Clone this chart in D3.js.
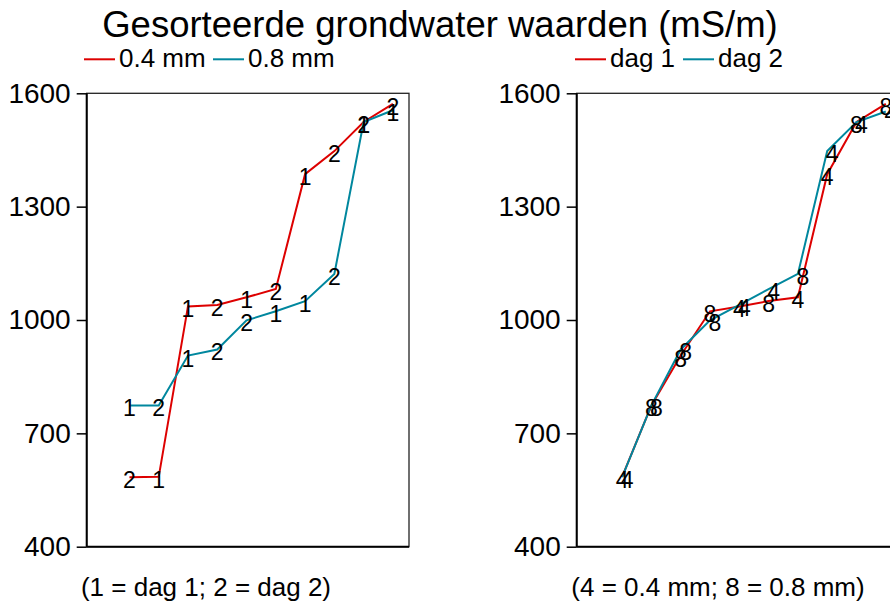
<!DOCTYPE html>
<html>
  <head>
    <meta charset="utf-8">
    <script src="https://cdn.jsdelivr.net/npm/d3@7"></script>
    <style>
      body { margin: 0; background: #fff; }
      text { font-family: "Liberation Sans", Arial, sans-serif; fill: #000; }
    </style>
  </head>
  <body>
    <div id="chart"></div>
    <script type="text/javascript">
      // left panel: sorted per sieve size, label = day
      var leftRedVals = [584, 585, 1036, 1040, 1060, 1082, 1386, 1447, 1524, 1572],
          leftRedLabels = ["2", "1", "1", "2", "1", "2", "1", "2", "1", "2"],
          leftTealVals = [774, 774, 906, 922, 999, 1023, 1050, 1122, 1524, 1555],
          leftTealLabels = ["1", "2", "1", "2", "2", "1", "1", "2", "2", "1"];

      // right panel: sorted per day, label = sieve size
      var rightRedVals = [585, 774, 906, 1023, 1036, 1050, 1060, 1386, 1524, 1572],
          rightRedLabels = ["4", "8", "8", "8", "4", "8", "4", "4", "8", "8"],
          rightTealVals = [584, 774, 922, 999, 1040, 1082, 1122, 1447, 1524, 1552],
          rightTealLabels = ["4", "8", "8", "8", "4", "4", "8", "4", "4", "4"];

      var yTicks = [400, 700, 1000, 1300, 1600];
      var leftLegend = ["0.4 mm", "0.8 mm"],
          rightLegend = ["dag 1", "dag 2"];

      var red = "#dd0000",
          teal = "#00879e";

      var svg = d3.select("#chart").append("svg")
          .attr("width", 890)
          .attr("height", 605);

      svg.append("text")
          .attr("x", 440)
          .attr("y", 37)
          .style("font-size", "36.5px")
          .style("text-anchor", "middle")
          .text("Gesorteerde grondwater waarden (mS/m)");

      var y = d3.scaleLinear().domain([400, 1600]).range([546.7, 93.3]);

      function legend(x0, names, offsets) {
        var g = svg.append("g");
        names.forEach(function(n, i) {
          g.append("line")
              .attr("x1", x0 + offsets[i]).attr("x2", x0 + offsets[i] + 31)
              .attr("y1", 59.3).attr("y2", 59.3)
              .attr("stroke", i == 0 ? red : teal)
              .attr("stroke-width", 2);
          g.append("text")
              .attr("x", x0 + offsets[i] + 35)
              .attr("y", 67)
              .style("font-size", "26px")
              .text(n);
        });
      }
      legend(84, leftLegend, [0, 129]);
      legend(575, rightLegend, [0, 108]);

      function panel(left, domain, series, caption, capX) {
        var x = d3.scaleLinear().domain(domain).range([left, left + 322.3]);
        var g = svg.append("g");

        // box
        g.append("rect")
            .attr("x", left).attr("y", y(1600))
            .attr("width", 322.3).attr("height", y(400) - y(1600))
            .attr("fill", "none")
            .attr("stroke", "#222")
            .attr("stroke-width", 1.3);

        var axis = d3.axisLeft(y).tickValues(yTicks).tickFormat(d3.format("d"))
            .tickSize(10).tickPadding(6);
        var ax = g.append("g")
            .attr("transform", "translate(" + left + ",0)")
            .call(axis);
        ax.select(".domain").attr("stroke", "#000").attr("stroke-width", 2)
            .attr("d", "M0," + y(1600) + "V" + y(400));
        ax.selectAll(".tick line").attr("stroke", "#000").attr("stroke-width", 1.5);
        ax.selectAll(".tick text")
            .style("font-size", "28px")
            .style("font-family", "'Liberation Sans', Arial, sans-serif")
            .attr("fill", "#000");

        g.append("line")
            .attr("x1", left).attr("x2", left + 322.3)
            .attr("y1", y(400)).attr("y2", y(400))
            .attr("stroke", "#000").attr("stroke-width", 2);

        var line = d3.line()
            .x(function(d, i) { return x(i + 1); })
            .y(function(d) { return y(d); });

        series.forEach(function(s) {
          g.append("path")
              .datum(s.vals)
              .attr("d", line)
              .attr("fill", "none")
              .attr("stroke", s.color)
              .attr("stroke-width", 2);
        });
        series.forEach(function(s) {
          g.selectAll(null)
              .data(s.vals)
              .enter().append("text")
                .attr("x", function(d, i) { return x(i + 1) + s.dx; })
                .attr("y", function(d) { return y(d) + 11; })
                .style("font-size", "23px")
                .style("text-anchor", "middle")
                .text(function(d, i) { return s.labels[i]; });
        });

        svg.append("text")
            .attr("x", capX)
            .attr("y", 596)
            .style("font-size", "26px")
            .style("text-anchor", "middle")
            .text(caption);
      }

      panel(86.7, [-0.46, 10.55], [
        { vals: leftRedVals, labels: leftRedLabels, color: red, dx: 0 },
        { vals: leftTealVals, labels: leftTealLabels, color: teal, dx: 0 }
      ], "(1 = dag 1; 2 = dag 2)", 206);

      panel(576.7, [-0.55, 10.45], [
        { vals: rightRedVals, labels: rightRedLabels, color: red, dx: 0 },
        { vals: rightTealVals, labels: rightTealLabels, color: teal, dx: 5 }
      ], "(4 = 0.4 mm; 8 = 0.8 mm)", 718);
    </script>
  </body>
</html>
